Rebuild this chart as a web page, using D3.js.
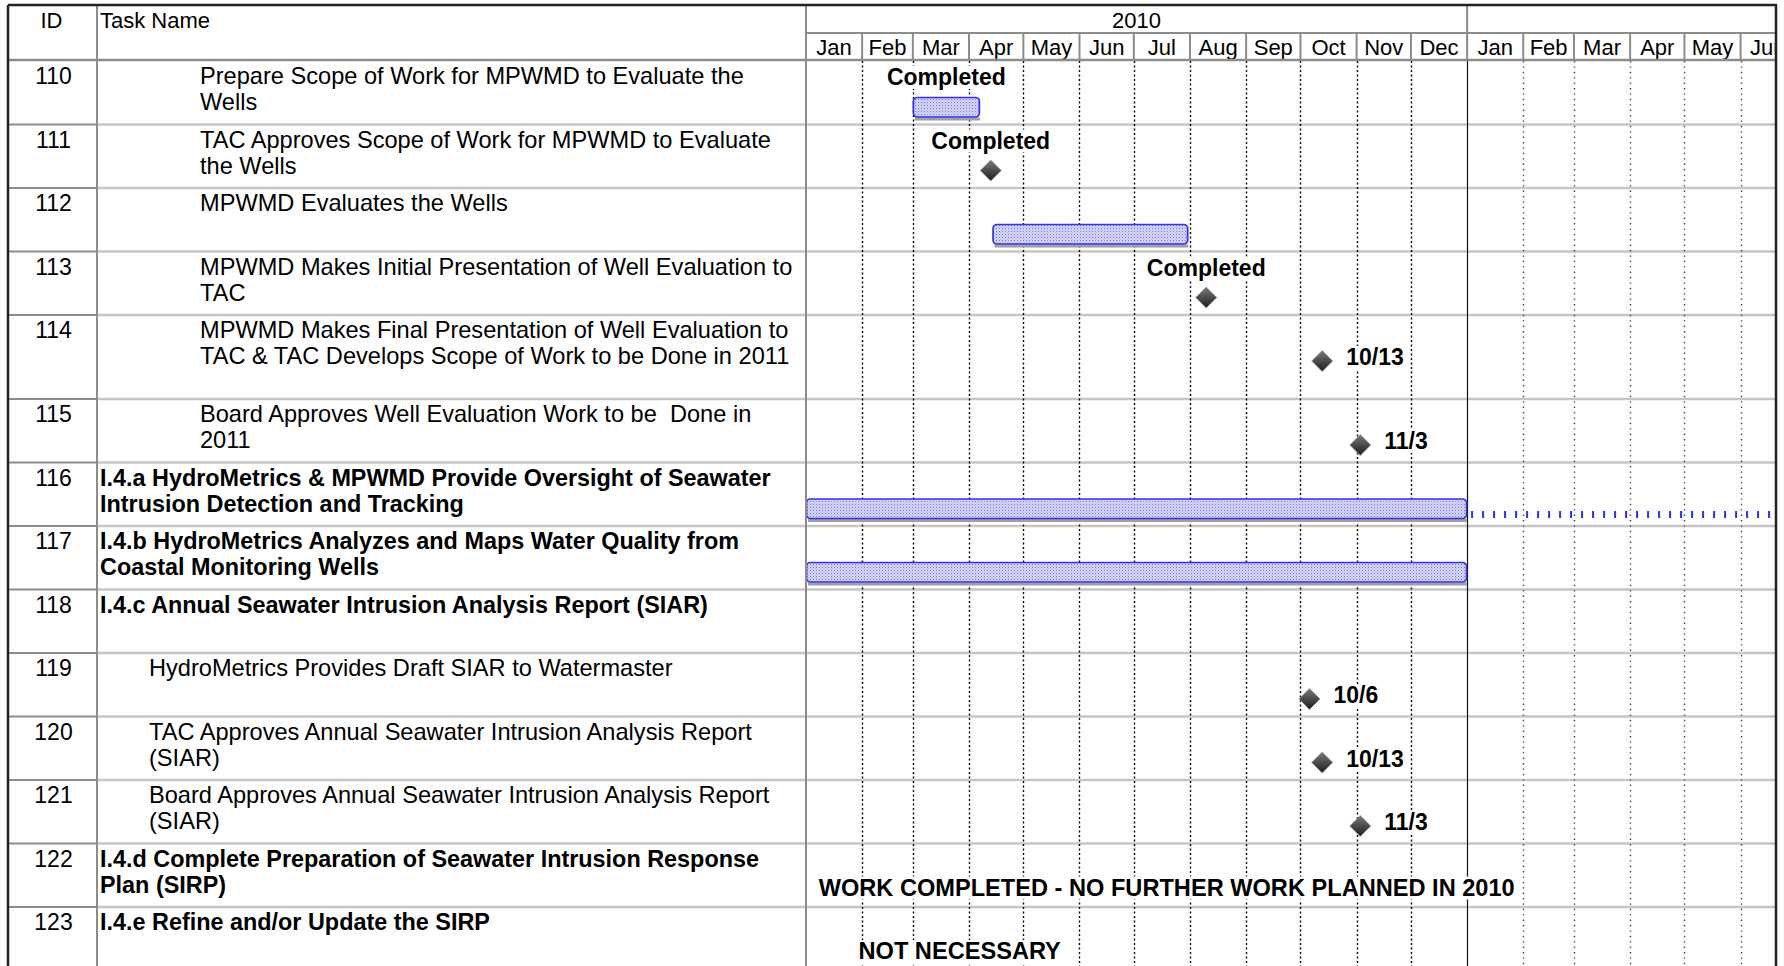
<!DOCTYPE html>
<html>
<head>
<meta charset="utf-8">
<script src="https://cdn.jsdelivr.net/npm/d3@7"></script>
<style>
  html, body { margin: 0; padding: 0; background: #fff; }
  svg { display: block; font-family: "Liberation Sans", Arial, Helvetica, sans-serif; }
</style>
</head>
<body>
<script>
// ---------------- DATA ----------------
const taskIds = ["110","111","112","113","114","115","116","117","118","119","120","121","122","123"];
const taskNames = [
  ["Prepare Scope of Work for MPWMD to Evaluate the", "Wells"],
  ["TAC Approves Scope of Work for MPWMD to Evaluate", "the Wells"],
  ["MPWMD Evaluates the Wells"],
  ["MPWMD Makes Initial Presentation of Well Evaluation to", "TAC"],
  ["MPWMD Makes Final Presentation of Well Evaluation to", "TAC & TAC Develops Scope of Work to be Done in 2011"],
  ["Board Approves Well Evaluation Work to be  Done in", "2011"],
  ["I.4.a HydroMetrics & MPWMD Provide Oversight of Seawater", "Intrusion Detection and Tracking"],
  ["I.4.b HydroMetrics Analyzes and Maps Water Quality from", "Coastal Monitoring Wells"],
  ["I.4.c Annual Seawater Intrusion Analysis Report (SIAR)"],
  ["HydroMetrics Provides Draft SIAR to Watermaster"],
  ["TAC Approves Annual Seawater Intrusion Analysis Report", "(SIAR)"],
  ["Board Approves Annual Seawater Intrusion Analysis Report", "(SIAR)"],
  ["I.4.d Complete Preparation of Seawater Intrusion Response", "Plan (SIRP)"],
  ["I.4.e Refine and/or Update the SIRP"]
];
const taskOutline = [3,3,3,3,3,3,1,1,1,2,2,2,1,1];   // outline level (1 = summary, bold)

const barTasks  = ["110","112","116","117"];
const barStarts = ["2010-03-01","2010-04-14","2010-01-01","2010-01-01"];
const barEnds   = ["2010-04-07","2010-07-31","2011-01-01","2011-01-01"];

const continuationTask  = "116";
const continuationStart = "2011-01-01";
const continuationEnd   = "2011-06-21";

const milestoneTasks  = ["111","113","114","115","119","120","121"];
const milestoneDates  = ["2010-04-13","2010-08-10","2010-10-13","2010-11-03","2010-10-06","2010-10-13","2010-11-03"];
const milestoneLabels = ["","","10/13","11/3","10/6","10/13","11/3"];

const completedTasks = ["110","111","113"];
const completedText  = "Completed";

const noteTasks = ["122","123"];
const noteDates = ["2010-01-08","2010-01-30"];
const noteTexts = ["WORK COMPLETED - NO FURTHER WORK PLANNED IN 2010", "NOT NECESSARY"];

const monthLabels = ["Jan","Feb","Mar","Apr","May","Jun","Jul","Aug","Sep","Oct","Nov","Dec",
                     "Jan","Feb","Mar","Apr","May","Jun"];
const yearLabels  = ["2010"];
const timelineStart = "2010-01-01";
const timelineEnd   = "2011-06-20";

// ---------------- LAYOUT ----------------
const W = 1784, H = 966;
const L = { left: 8, idRight: 97, chartLeft: 806, right: 1776, top: 5, yearBottom: 33, headBottom: 60, rowTop: 61 };
const FS = 23;
const FS_TASK = 23.6, FS_BOLD = 23.4, FS_NOTE = 23.6;
const parse = d3.utcParse("%Y-%m-%d");

const x = d3.scaleUtc().domain([parse(timelineStart), parse(timelineEnd)]).range([L.chartLeft, 1775]);

const rowHeights = taskIds.map(id => id === "114" ? 84 : 63.5);
const rowTops = [];
rowHeights.reduce((acc, h) => { rowTops.push(acc); return acc + h; }, L.rowTop);
const yTop = d3.scaleOrdinal().domain(taskIds).range(rowTops);

const svg = d3.select("body").append("svg").attr("width", W).attr("height", H);
const defs = svg.append("defs");

// dotted bar fill
const pat = defs.append("pattern").attr("id", "barFill").attr("patternUnits", "userSpaceOnUse")
  .attr("width", 3).attr("height", 3);
pat.append("rect").attr("width", 3).attr("height", 3).attr("fill", "#d6d6fa");
pat.append("rect").attr("x", 0).attr("y", 0).attr("width", 1).attr("height", 1).attr("fill", "#7474e4");
pat.append("rect").attr("x", 1.5).attr("y", 1.5).attr("width", 1).attr("height", 1).attr("fill", "#a4a4ee");

const grad = defs.append("linearGradient").attr("id", "diamondFill").attr("x1", 0).attr("y1", 0).attr("x2", 0).attr("y2", 1);
grad.append("stop").attr("offset", "0%").attr("stop-color", "#7a7a7a");
grad.append("stop").attr("offset", "100%").attr("stop-color", "#1c1c1c");

defs.append("clipPath").attr("id", "chartClip").append("rect")
  .attr("x", L.chartLeft).attr("y", 0).attr("width", L.right - L.chartLeft).attr("height", H);

svg.append("rect").attr("width", W).attr("height", H).attr("fill", "#fff");

// ---------------- ROW SEPARATORS ----------------
const rowSep = svg.append("g");
rowTops.slice(1).forEach(t => {
  rowSep.append("line").attr("x1", L.idRight).attr("x2", L.right).attr("y1", t).attr("y2", t)
    .attr("stroke", "#c6c6c6").attr("stroke-width", 2.5);
  rowSep.append("line").attr("x1", L.left).attr("x2", L.idRight).attr("y1", t).attr("y2", t)
    .attr("stroke", "#8c8c8c").attr("stroke-width", 2);
});

// ---------------- GRID ----------------
const chart = svg.append("g").attr("clip-path", "url(#chartClip)");
const months = d3.utcMonth.range(parse(timelineStart), d3.utcMonth.offset(parse(timelineEnd), 1));
const yearBoundary = parse("2011-01-01");
chart.append("g").selectAll("line").data(months.slice(1)).join("line")
  .attr("x1", d => Math.round(x(d)) + 0.5).attr("x2", d => Math.round(x(d)) + 0.5)
  .attr("y1", L.headBottom + 1).attr("y2", H)
  .attr("stroke", d => +d === +yearBoundary ? "#111" : (d < yearBoundary ? "#000" : "#444"))
  .attr("stroke-width", d => +d === +yearBoundary ? 1.2 : 1.4)
  .attr("stroke-dasharray", d => +d === +yearBoundary ? null : (d < yearBoundary ? "2,2.5" : "1.4,4"));

// ---------------- BARS ----------------
const barData = barTasks.map((t, i) => ({ t, s: parse(barStarts[i]), e: parse(barEnds[i]) }));
const bars = chart.append("g");
bars.selectAll("line.shadow").data(barData).join("line").attr("class", "shadow")
  .attr("x1", d => x(d.s) + 2).attr("x2", d => x(d.e))
  .attr("y1", d => yTop(d.t) + 58).attr("y2", d => yTop(d.t) + 58)
  .attr("stroke", "#a0a0a0").attr("stroke-width", 3);
bars.selectAll("rect").data(barData).join("rect")
  .attr("x", d => x(d.s) + 0.5).attr("width", d => x(d.e) - x(d.s) - 1)
  .attr("y", d => yTop(d.t) + 36.5).attr("height", 19.5)
  .attr("rx", 4).attr("ry", 4)
  .attr("fill", "url(#barFill)").attr("stroke", "#3030f2").attr("stroke-width", 1.7);

// continuation (dotted) for task 116
const cont = { t: continuationTask, s: parse(continuationStart), e: parse(continuationEnd) };
chart.append("line")
  .attr("x1", x(cont.s) + 4).attr("x2", x(cont.e))
  .attr("y1", yTop(cont.t) + 52).attr("y2", yTop(cont.t) + 52)
  .attr("stroke", "#2f2ff0").attr("stroke-width", 7)
  .attr("stroke-dasharray", "2,9");

// ---------------- LABEL HELPER (white backed) ----------------
const labels = svg.append("g").attr("clip-path", "url(#chartClip)");
function label(xp, yp, text, anchor, size) {
  const g = labels.append("g");
  const bg = g.append("rect").attr("fill", "#fff");
  const t = g.append("text").attr("x", xp).attr("y", yp).attr("text-anchor", anchor)
    .attr("font-weight", "bold").attr("font-size", size || FS).attr("fill", "#000").text(text);
  const b = t.node().getBBox();
  bg.attr("x", b.x - 1).attr("y", b.y + 2).attr("width", b.width + 2).attr("height", b.height - 3);
}

// Completed labels over bars / milestones
completedTasks.forEach(t => {
  let cx;
  const bi = barTasks.indexOf(t);
  if (bi >= 0) cx = (x(parse(barStarts[bi])) + x(parse(barEnds[bi]))) / 2;
  else cx = x(parse(milestoneDates[milestoneTasks.indexOf(t)]));
  label(cx, yTop(t) + 24, completedText, "middle");
});

// milestone date labels
milestoneTasks.forEach((t, i) => {
  if (milestoneLabels[i]) label(x(parse(milestoneDates[i])) + 24, yTop(t) + 50, milestoneLabels[i], "start");
});

// notes
noteTasks.forEach((t, i) => label(x(parse(noteDates[i])), yTop(t) + 52, noteTexts[i], "start", FS_NOTE));

// ---------------- MILESTONES ----------------
const ms = milestoneTasks.map((t, i) => ({ t, d: parse(milestoneDates[i]) }));
svg.append("g").selectAll("path").data(ms).join("path")
  .attr("transform", d => `translate(${x(d.d)},${yTop(d.t) + 46})`)
  .attr("d", "M0,-10.5L10.5,0L0,10.5L-10.5,0Z")
  .attr("fill", "url(#diamondFill)").attr("stroke", "#9a9a9a").attr("stroke-width", 0.8);

// ---------------- TABLE TEXT ----------------
const table = svg.append("g");
table.selectAll("text.id").data(taskIds).join("text").attr("class", "id")
  .attr("x", (L.left + L.idRight) / 2 + 1).attr("y", d => yTop(d) + 23)
  .attr("text-anchor", "middle").attr("font-size", FS).text(d => d);

const indentX = { 1: 100, 2: 149, 3: 200 };
taskIds.forEach((id, i) => {
  const isBold = taskOutline[i] === 1;
  const t = table.append("text")
    .attr("x", indentX[taskOutline[i]]).attr("y", yTop(id) + 23)
    .attr("font-size", isBold ? FS_BOLD : FS_TASK).attr("font-weight", isBold ? "bold" : "normal");
  taskNames[i].forEach((line, j) => {
    t.append("tspan").attr("x", indentX[taskOutline[i]]).attr("dy", j === 0 ? 0 : 26)
      .attr("xml:space", "preserve").style("white-space", "pre").text(line);
  });
});

// ---------------- HEADER ----------------
const head = svg.append("g");
head.append("rect").attr("x", L.left).attr("y", L.top).attr("width", L.right - L.left).attr("height", L.headBottom - L.top).attr("fill", "#fff");
head.append("text").attr("x", (L.left + L.idRight) / 2 - 1).attr("y", 28).attr("text-anchor", "middle")
  .attr("font-size", 22).text("ID");
head.append("text").attr("x", 100).attr("y", 28).attr("font-size", 22).text("Task Name");

const hg = head.append("g").attr("clip-path", "url(#chartClip)");
const years = yearLabels.map(y => d3.utcParse("%Y")(y));
hg.selectAll("text.year").data(years).join("text").attr("class", "year")
  .attr("x", (d) => (x(d) + x(d3.utcYear.offset(d, 1))) / 2).attr("y", 28)
  .attr("text-anchor", "middle").attr("font-size", 22).text((d, i) => yearLabels[i]);
hg.selectAll("text.month").data(months).join("text").attr("class", "month")
  .attr("x", d => (x(d) + x(d3.utcMonth.offset(d, 1))) / 2).attr("y", 55)
  .attr("text-anchor", "middle").attr("font-size", 22).text((d, i) => monthLabels[i]);
hg.selectAll("line.msep").data(months.slice(1)).join("line").attr("class", "msep")
  .attr("x1", d => x(d)).attr("x2", d => x(d)).attr("y1", L.yearBottom).attr("y2", L.headBottom)
  .attr("stroke", "#8c8c8c").attr("stroke-width", 2);
head.append("line").attr("x1", x(yearBoundary)).attr("x2", x(yearBoundary)).attr("y1", L.top).attr("y2", L.yearBottom)
  .attr("stroke", "#8c8c8c").attr("stroke-width", 2);
head.append("line").attr("x1", L.chartLeft).attr("x2", L.right).attr("y1", L.yearBottom).attr("y2", L.yearBottom)
  .attr("stroke", "#8c8c8c").attr("stroke-width", 2);
head.append("line").attr("x1", L.left).attr("x2", L.right).attr("y1", L.headBottom).attr("y2", L.headBottom)
  .attr("stroke", "#8c8c8c").attr("stroke-width", 2.5);

// column separators and frame
[L.idRight, L.chartLeft].forEach(cx => {
  svg.append("line").attr("x1", cx).attr("x2", cx).attr("y1", L.top).attr("y2", H)
    .attr("stroke", "#8c8c8c").attr("stroke-width", 2);
});
svg.append("line").attr("x1", L.left).attr("x2", L.right + 1).attr("y1", L.top).attr("y2", L.top)
  .attr("stroke", "#222").attr("stroke-width", 2.5);
svg.append("line").attr("x1", L.left).attr("x2", L.left).attr("y1", L.top).attr("y2", H)
  .attr("stroke", "#222").attr("stroke-width", 2.5);
svg.append("line").attr("x1", L.right).attr("x2", L.right).attr("y1", L.top).attr("y2", H)
  .attr("stroke", "#222").attr("stroke-width", 2.5);
</script>
</body>
</html>
